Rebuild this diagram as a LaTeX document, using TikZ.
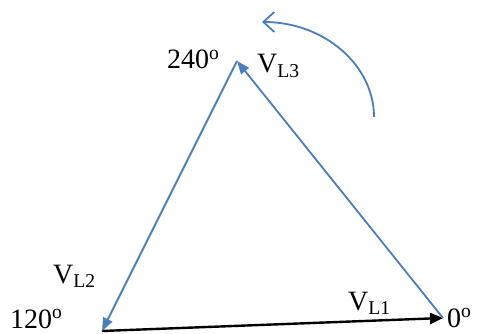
\documentclass[tikz,border=0pt]{standalone}
\usepackage{fontspec}
\setmainfont{Liberation Serif}
\usepackage{tikz}
\usetikzlibrary{arrows.meta, positioning, calc}
\usepackage{xcolor}
\definecolor{phaseblue}{HTML}{4A7EBB}

\begin{document}
\begin{tikzpicture}[x=1pt, y=-1pt,
    lbl/.style={inner sep=0pt, anchor=base west, font=\fontsize{28}{33}\selectfont},
    phasor/.style={draw=phaseblue, line width=1.8pt, -{Triangle[length=13pt, width=10pt]}}]
    \useasboundingbox (0,0) rectangle (477,334);
    % vertices of the triangle
    \coordinate (p0) at (443,318);
    \coordinate (p120) at (102,331);
    \coordinate (p240) at (237,61);
    % phasors
    \draw[black, line width=2.4pt, -{Triangle[length=13pt, width=11pt]}] (p120) -- (p0);
    \draw[phasor] (p0) -- (p240);
    \draw[phasor] (p240) -- (p120);
    % rotation
    \coordinate (rotstart) at (374,117);
    \coordinate (rotend) at (262,22);
    \draw[phaseblue, line width=1.8pt, -{Straight Barb[length=11pt, width=20pt]}]
        (rotstart) .. controls (374,65) and (324,22) .. (rotend);
    % labels
    \node[lbl] (a240) at (167,69) {240\textsuperscript{o}};
    \node[lbl] (v3) at (257,73) {V\textsubscript{L3}};
    \node[lbl] (v2) at (53,283) {V\textsubscript{L2}};
    \node[lbl] (a120) at (10,328) {120\textsuperscript{o}};
    \node[lbl] (v1) at (348,310) {V\textsubscript{L1}};
    \node[lbl] (a0) at (447,327) {0\textsuperscript{o}};
\end{tikzpicture}
\end{document}
